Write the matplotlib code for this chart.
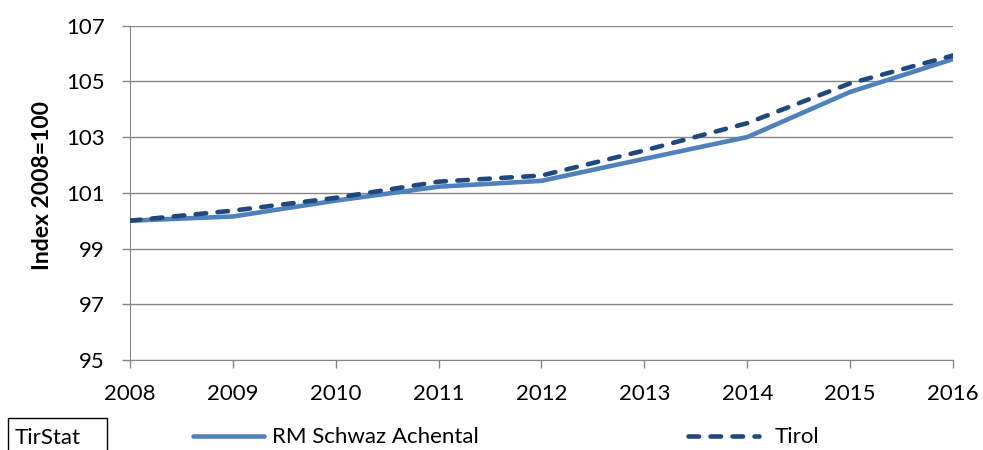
import matplotlib.pyplot as plt
from matplotlib.patches import Rectangle

# --- Data ---
years = [2008, 2009, 2010, 2011, 2012, 2013, 2014, 2015, 2016]
schwaz = [100.0, 100.15, 100.72, 101.22, 101.43, 102.22, 103.0, 104.62, 105.8]
tirol = [100.0, 100.36, 100.82, 101.4, 101.62, 102.52, 103.5, 104.93, 105.93]
y_ticks = [95, 97, 99, 101, 103, 105, 107]

plt.rcParams['font.family'] = ['Lato', 'DejaVu Sans']
FS = 16

fig = plt.figure(figsize=(9.83, 4.5), dpi=100)
ax = fig.add_axes([0.1322, 0.2, 0.8373, 0.743])

l1, = ax.plot(years, schwaz, color='#4F81BD', lw=3.3, solid_capstyle='round',
              label='RM Schwaz Achental', zorder=3)
l2, = ax.plot(years, tirol, color='#1F497D', lw=3.3, dashes=(2.3, 2.5),
              dash_capstyle='round', label='Tirol', zorder=4)

ax.set_xlim(2008, 2016)
ax.set_ylim(95, 107)
ax.set_xticks(years)
ax.set_yticks(y_ticks)
ax.grid(axis='y', color='#868686', lw=1)
ax.set_axisbelow(True)

for s in ['top', 'right']:
    ax.spines[s].set_visible(False)
for s in ['left', 'bottom']:
    ax.spines[s].set_color('#868686')
ax.tick_params(axis='both', colors='#868686', labelcolor='black',
               labelsize=FS, length=6, width=1, direction='out')
ax.tick_params(axis='x', pad=11)
ax.tick_params(axis='y', pad=12)

ax.set_ylabel('Index 2008=100', fontsize=16.5, fontweight='bold')
ax.yaxis.set_label_coords(-0.094, 0.523)

# legend, two pieces placed like the original
leg1 = fig.legend(handles=[l1], loc='center left', bbox_to_anchor=(0.1963, 0.028),
                  frameon=False, fontsize=FS, handlelength=3.2,
                  handletextpad=0.35, borderpad=0, borderaxespad=0)
leg2 = fig.legend(handles=[l2], loc='center left', bbox_to_anchor=(0.7, 0.028),
                  frameon=False, fontsize=FS, handlelength=3.2,
                  handletextpad=0.7, borderpad=0, borderaxespad=0)

# source box (partly cut off at the bottom edge)
fig.patches.append(Rectangle((8 / 983, -0.05), 99 / 983, 0.05 + 0.071,
                             transform=fig.transFigure, fill=False,
                             ec='black', lw=1))
fig.text(15 / 983, 0.027, 'TirStat', fontsize=FS, va='center', ha='left')

fig.savefig('out.png', dpi=100)
